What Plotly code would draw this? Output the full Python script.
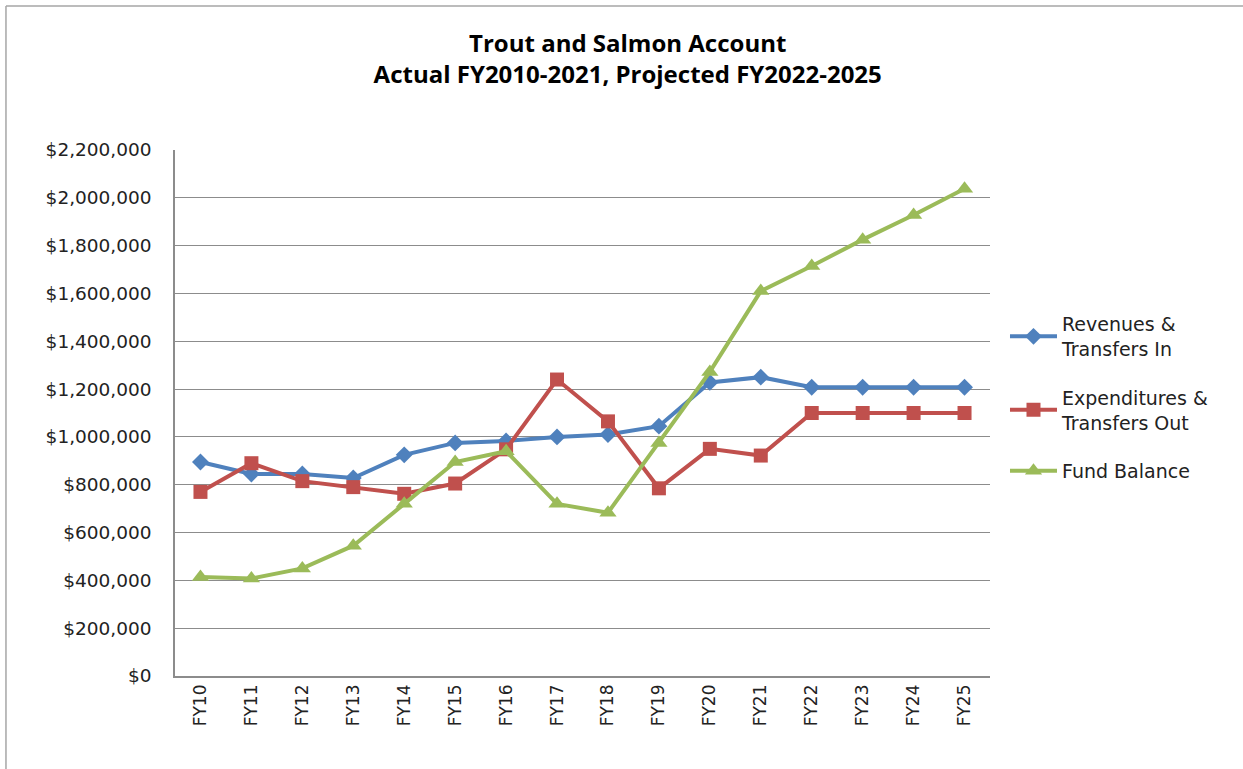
import plotly.graph_objects as go

years = ["FY10", "FY11", "FY12", "FY13", "FY14", "FY15", "FY16", "FY17",
         "FY18", "FY19", "FY20", "FY21", "FY22", "FY23", "FY24", "FY25"]
revenues = [895000, 845000, 845000, 828000, 925000, 975000, 983000, 1000000,
            1010000, 1045000, 1228000, 1250000, 1208000, 1208000, 1208000, 1208000]
expenditures = [770000, 890000, 815000, 790000, 762000, 805000, 948000, 1240000,
                1065000, 785000, 950000, 922000, 1100000, 1100000, 1100000, 1100000]
fund_balance = [414000, 408000, 450000, 545000, 720000, 895000, 940000, 720000,
                683000, 975000, 1272000, 1610000, 1715000, 1825000, 1928000, 2038000]
y_ticks = list(range(0, 2200001, 200000))
y_tick_labels = ["$" + format(v, ",") for v in y_ticks]

TITLE_FONT = "Open Sans"
FONT = "DejaVu Sans"

fig = go.Figure()
fig.add_trace(go.Scatter(
    x=years, y=revenues, mode="lines+markers", name="Revenues &<br>Transfers In",
    legendgroup="a",
    line=dict(color="#4F81BD", width=4),
    marker=dict(symbol="diamond", size=13, color="#4F81BD")))
fig.add_trace(go.Scatter(
    x=years, y=expenditures, mode="lines+markers", name="Expenditures &<br>Transfers Out",
    legendgroup="b",
    line=dict(color="#C0504D", width=4),
    marker=dict(symbol="square", size=14, color="#C0504D")))
fig.add_trace(go.Scatter(
    x=years, y=fund_balance, mode="lines+markers", name="Fund Balance",
    legendgroup="c",
    line=dict(color="#9BBB59", width=4),
    marker=dict(symbol="triangle-up", size=15, color="#9BBB59")))

fig.update_layout(
    width=1243, height=769,
    paper_bgcolor="white", plot_bgcolor="white",
    margin=dict(l=175, r=253, t=150, b=93),
    title=dict(text="<b>Trout and Salmon Account<br>Actual FY2010-2021, Projected FY2022-2025</b>",
               x=0.505, xanchor="center", xref="container",
               y=0.932, yanchor="top", yref="container",
               font=dict(family=TITLE_FONT, size=24, color="black")),
    font=dict(family=FONT, color="#222"),
    legend=dict(x=1.0184, xanchor="left", y=0.705, yanchor="top",
                font=dict(family=FONT, size=19, color="#222"),
                tracegroupgap=21, itemwidth=47),
    showlegend=True,
    shapes=[
        dict(type="line", xref="paper", yref="paper", x0=-0.2074, x1=-0.2074, y0=-0.2, y1=1.2738,
             line=dict(color="#A6A6A6", width=1.5)),
        dict(type="line", xref="paper", yref="paper", x0=-0.2074, x1=1.4, y0=1.2738, y1=1.2738,
             line=dict(color="#A6A6A6", width=1.5)),
    ],
)
fig.update_xaxes(
    type="category", range=[-0.5, 15.5], tickangle=-90,
    showline=True, linecolor="#8C8C8C", linewidth=1.5, mirror=False,
    showgrid=False, ticks="", tickfont=dict(family=FONT, size=17, color="#222"),
)
fig.update_yaxes(
    range=[0, 2200000], tickvals=y_ticks, ticktext=y_tick_labels,
    showline=True, linecolor="#8C8C8C", linewidth=1.5,
    showgrid=True, gridcolor="#8C8C8C", gridwidth=1.2, zeroline=False,
    ticks="", tickfont=dict(family=FONT, size=18.5, color="#222"), ticklabelstandoff=18,
)

fig.write_html("out.html", config={"displayModeBar": False},
               post_script="document.body.style.margin='0';")
